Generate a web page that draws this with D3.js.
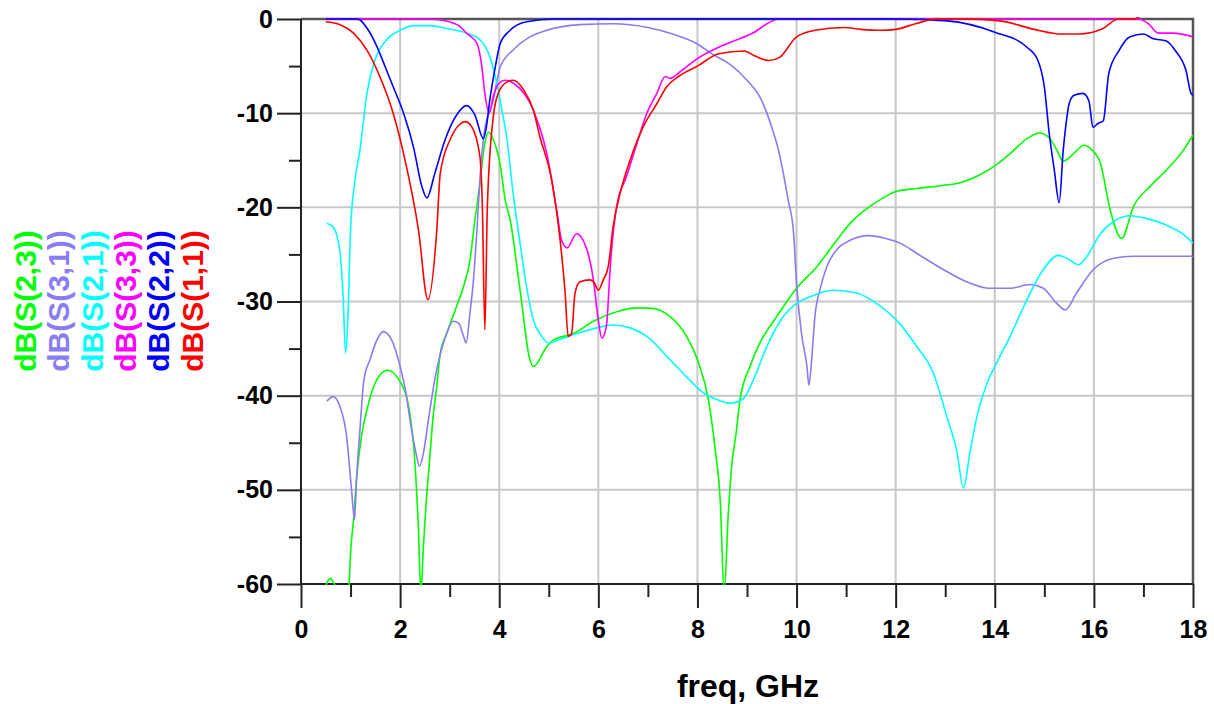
<!DOCTYPE html>
<html>
<head>
<meta charset="utf-8">
<script src="https://cdn.jsdelivr.net/npm/d3@7"></script>
<style>
  body { margin: 0; background: #fff; }
  svg { display: block; font-family: "Liberation Sans", Arial, sans-serif; }
  .grid line { stroke: #c8c8c8; stroke-width: 2; }
  .axis text { font-size: 25px; font-weight: bold; fill: #000; }
  .axis line { stroke: #222; stroke-width: 2; }
  .trace { fill: none; stroke-width: 1.6; stroke-linejoin: round; }
</style>
</head>
<body>
<script>
var svg, plot, x, y, line, W, H, M;

// [freq GHz, dB]
var s23 = [[0.5,-60.2],[0.55,-59.6],[0.6,-59.4],[0.65,-59.8],[0.7,-60.3],[0.8,-61],[0.95,-61],[0.97,-60],[1.0,-56.7],[1.06,-53.2],[1.12,-48.9],[1.22,-44.3],[1.33,-41.5],[1.53,-38.3],[1.74,-37.3],[2.0,-38.5],[2.2,-42],[2.3,-47.2],[2.37,-54.2],[2.42,-61],[2.47,-56],[2.52,-51.8],[2.59,-47.2],[2.66,-42.6],[2.74,-39],[2.81,-35.5],[2.94,-33.4],[3.14,-30.5],[3.28,-28.4],[3.41,-25.6],[3.51,-21.3],[3.6,-17.9],[3.7,-13.5],[3.78,-12.0],[3.88,-12.8],[4.02,-15.5],[4.12,-19.2],[4.22,-21.3],[4.42,-28.8],[4.62,-36.2],[4.69,-36.9],[4.96,-34.8],[5.09,-34.1],[5.5,-33.4],[5.9,-32.1],[6.37,-31.1],[6.71,-30.7],[7.04,-30.7],[7.45,-31.6],[7.78,-33.7],[8.02,-36.5],[8.22,-40.4],[8.36,-45.8],[8.46,-51.1],[8.54,-61],[8.62,-52.8],[8.69,-47.5],[8.78,-44],[8.86,-40.4],[9.06,-36.9],[9.26,-34.4],[9.6,-31.6],[10.0,-28.6],[10.41,-26.3],[10.81,-23.5],[11.08,-21.7],[11.48,-19.9],[11.75,-19.0],[12.02,-18.3],[12.43,-18.0],[12.9,-17.7],[13.3,-17.4],[13.64,-16.7],[14.03,-15.5],[14.31,-14.3],[14.65,-12.7],[14.91,-12.1],[15.11,-12.7],[15.25,-13.9],[15.38,-15.1],[15.59,-14.3],[15.8,-13.4],[15.96,-13.9],[16.13,-15.3],[16.33,-20.3],[16.56,-23.3],[16.8,-19.9],[17.13,-17.8],[17.47,-16],[17.81,-13.9],[18,-12.3]];

var s31 = [[0.52,-40.6],[0.65,-40.1],[0.79,-41.2],[0.92,-44.3],[1.02,-50],[1.08,-53.2],[1.12,-48.9],[1.19,-43.6],[1.27,-38.3],[1.39,-36.2],[1.53,-34.1],[1.66,-33.2],[1.83,-34.1],[2.0,-36.9],[2.13,-40.1],[2.2,-42.6],[2.32,-46.1],[2.39,-47.5],[2.47,-46.1],[2.57,-42.6],[2.7,-38.3],[2.94,-33.4],[3.07,-32.1],[3.18,-32.3],[3.28,-33.7],[3.33,-34.4],[3.41,-31.2],[3.48,-27.7],[3.55,-22.4],[3.61,-17.1],[3.7,-12],[3.88,-8.6],[4.02,-5.1],[4.28,-3.3],[4.62,-1.9],[4.96,-1.2],[5.63,-0.6],[6.3,-0.5],[7.0,-0.9],[7.5,-1.6],[8.0,-2.65],[8.29,-3.7],[8.65,-4.8],[9.0,-6.5],[9.3,-8.7],[9.5,-11.5],[9.62,-13.6],[9.83,-19.2],[9.94,-22.7],[10.0,-28.1],[10.1,-33.4],[10.21,-36.9],[10.25,-38.9],[10.31,-35.8],[10.37,-31.6],[10.47,-28.8],[10.61,-26.3],[10.81,-24.5],[11.08,-23.5],[11.45,-23.0],[11.8,-23.3],[12.09,-23.8],[12.43,-24.9],[12.96,-26.6],[13.43,-27.9],[13.9,-28.6],[14.31,-28.6],[14.71,-28.2],[14.98,-28.6],[15.25,-30.2],[15.42,-30.9],[15.65,-29.1],[15.99,-26.6],[16.4,-25.4],[16.8,-25.2],[17.34,-25.2],[18,-25.2]];

var s21 = [[0.52,-21.7],[0.65,-22.1],[0.79,-24.9],[0.85,-29.5],[0.9,-35.5],[0.95,-31.2],[1.0,-22.4],[1.09,-17.1],[1.19,-13.9],[1.33,-7.9],[1.49,-4.4],[1.73,-2.2],[2.0,-1.2],[2.27,-0.7],[2.6,-0.7],[2.94,-1.0],[3.34,-1.5],[3.61,-2.2],[3.81,-4.0],[3.95,-6.8],[4.08,-10.4],[4.15,-12.5],[4.28,-18.5],[4.42,-23.8],[4.55,-28.4],[4.69,-32],[4.86,-33.7],[4.99,-34.4],[5.23,-34],[5.63,-33.3],[5.97,-32.8],[6.3,-32.5],[6.64,-32.8],[6.98,-33.7],[7.45,-36.2],[7.78,-38],[8.12,-39.7],[8.39,-40.4],[8.66,-40.8],[8.93,-40.3],[9.13,-38.3],[9.4,-34.8],[9.73,-31.6],[10.0,-30.2],[10.27,-29.5],[10.74,-28.8],[11.21,-29.1],[11.69,-30.5],[12.02,-32],[12.43,-34.8],[12.76,-37.6],[13.03,-42.2],[13.23,-45.8],[13.37,-49.8],[13.5,-46],[13.64,-42.2],[13.84,-38.7],[14.04,-36.5],[14.31,-33.7],[14.65,-29.8],[14.98,-26.6],[15.28,-25.1],[15.45,-25.4],[15.69,-26.1],[15.86,-25.2],[16.13,-22.8],[16.4,-21.5],[16.73,-20.9],[17.07,-21.2],[17.47,-21.9],[17.81,-22.9],[18,-23.8]];

var s33 = [[0.5,0],[1.0,0],[2.0,0],[2.6,0],[3.0,-0.3],[3.21,-0.8],[3.34,-1.5],[3.55,-2.6],[3.65,-5.1],[3.71,-7.9],[3.8,-10.0],[3.88,-8.2],[4.02,-6.7],[4.12,-6.5],[4.28,-6.8],[4.69,-9.7],[4.96,-14.3],[5.16,-20.3],[5.26,-23.5],[5.37,-24.3],[5.56,-22.8],[5.77,-24.5],[5.9,-27.7],[6.0,-32],[6.07,-33.9],[6.16,-32.7],[6.25,-25.6],[6.37,-19.9],[6.57,-16.7],[6.78,-13.2],[6.98,-10.0],[7.18,-7.9],[7.35,-6.1],[7.45,-6.3],[7.65,-5.6],[8.0,-4.2],[8.43,-3.0],[9.08,-1.6],[9.65,0],[10,0],[12,0],[14,0],[16,0],[16.9,0],[17.1,-0.5],[17.3,-1.5],[17.6,-1.5],[18,-1.9]];

var s22 = [[0.5,0],[1.13,0],[1.19,-0.1],[1.36,-1.2],[1.53,-2.9],[1.7,-5.1],[1.86,-7.2],[2.07,-10],[2.27,-13.6],[2.44,-17.8],[2.54,-19.0],[2.7,-16.4],[2.91,-12.8],[3.14,-10.2],[3.34,-9.2],[3.51,-10.2],[3.68,-12.7],[3.74,-11.5],[3.81,-8.6],[3.92,-5.1],[4.02,-2.6],[4.22,-1.2],[4.55,-0.3],[5.1,0],[8,0],[10,0],[12,0],[13.04,-0.2],[14.0,-1.4],[14.65,-3.0],[14.87,-4.4],[15.0,-7.2],[15.1,-12.2],[15.2,-16],[15.3,-19.5],[15.38,-14],[15.43,-11.5],[15.5,-9.0],[15.6,-8.1],[15.78,-7.9],[15.9,-8.7],[15.98,-11.5],[16.08,-11.1],[16.19,-10.8],[16.3,-5.8],[16.5,-3.4],[16.72,-1.9],[17.0,-1.6],[17.2,-2.1],[17.45,-2.3],[17.65,-3.4],[17.86,-5.5],[17.96,-7.9],[18,-8.1]];

var s11 = [[0.5,-0.3],[0.79,-0.6],[1.06,-1.5],[1.33,-3.3],[1.59,-6.1],[1.86,-10],[2.07,-14.3],[2.37,-22.4],[2.56,-29.8],[2.74,-22.4],[2.81,-16.4],[3.01,-12.8],[3.2,-11.2],[3.31,-10.9],[3.44,-11.4],[3.61,-14.6],[3.66,-20],[3.71,-33],[3.76,-20],[3.88,-10.4],[3.98,-7.9],[4.15,-6.7],[4.28,-6.5],[4.49,-7.5],[4.69,-9.7],[4.82,-12.5],[5.06,-17.1],[5.23,-23.5],[5.33,-29.1],[5.39,-33.7],[5.46,-33.4],[5.53,-29.1],[5.63,-27.9],[5.83,-27.7],[5.93,-28.1],[6.0,-28.8],[6.1,-27.7],[6.2,-26.3],[6.3,-22],[6.44,-18.5],[6.64,-15],[6.91,-11.4],[7.18,-9.0],[7.38,-7.2],[7.65,-6.0],[8.0,-5.0],[8.43,-3.7],[8.94,-3.4],[9.15,-3.9],[9.44,-4.4],[9.65,-4.1],[10.0,-1.9],[10.37,-1.2],[10.95,-0.9],[11.3,-1.1],[11.7,-1.2],[12.0,-1.1],[12.4,-0.5],[12.85,0],[13.4,0],[14.1,-0.2],[14.8,-1.1],[15.35,-1.6],[15.7,-1.6],[16.15,-1.1],[16.5,0],[16.8,0],[17.0,0.4],[17.5,0.5],[18,0.5]];

var seriesNames = ['dB(S(2,3))', 'dB(S(3,1))', 'dB(S(2,1))', 'dB(S(3,3))', 'dB(S(2,2))', 'dB(S(1,1))'];
var seriesData = [s23, s31, s21, s33, s22, s11];
var seriesColors = ['#00ff00', '#8a7cf2', '#00ffff', '#ff00ff', '#0000ff', '#ff0000'];

var xMajor = [0, 2, 4, 6, 8, 10, 12, 14, 16, 18];
var xMinor = [1, 3, 5, 7, 9, 11, 13, 15, 17];
var yMajor = [0, -10, -20, -30, -40, -50, -60];
var yMinor = [-5, -15, -25, -35, -45, -55];

W = 1214;
H = 704;
M = { left: 301, right: 1193, top: 19, bottom: 584 };

svg = d3.select('body').append('svg')
  .attr('width', W)
  .attr('height', H);

x = d3.scaleLinear().domain([0, 18]).range([M.left, M.right]);
y = d3.scaleLinear().domain([-60, 0]).range([M.bottom, M.top]);

// grid
svg.append('g').attr('class', 'grid')
  .selectAll('line.v').data(xMajor.slice(1, -1)).enter()
  .append('line')
  .attr('x1', function(d) { return x(d); })
  .attr('x2', function(d) { return x(d); })
  .attr('y1', M.top).attr('y2', M.bottom);

svg.select('.grid')
  .selectAll('line.h').data(yMajor.slice(1, -1)).enter()
  .append('line')
  .attr('y1', function(d) { return y(d); })
  .attr('y2', function(d) { return y(d); })
  .attr('x1', M.left).attr('x2', M.right);

// top / right frame
svg.append('path')
  .attr('d', 'M' + M.left + ',' + M.top + 'H' + M.right + 'V' + M.bottom)
  .attr('fill', 'none')
  .attr('stroke', '#555')
  .attr('stroke-width', 2.5);

// axes (plain hyphen for negatives, like the original)
function plain(d) { return String(d); }

svg.append('g').attr('class', 'axis')
  .attr('transform', 'translate(0,' + M.bottom + ')')
  .call(d3.axisBottom(x).tickValues(xMajor).tickSize(24).tickPadding(12).tickFormat(plain));
svg.append('g').attr('class', 'axis')
  .attr('transform', 'translate(0,' + M.bottom + ')')
  .call(d3.axisBottom(x).tickValues(xMinor).tickSize(13).tickFormat(''));

svg.append('g').attr('class', 'axis')
  .attr('transform', 'translate(' + M.left + ',0)')
  .call(d3.axisLeft(y).tickValues(yMajor).tickSize(24).tickPadding(4).tickFormat(plain));
svg.append('g').attr('class', 'axis')
  .attr('transform', 'translate(' + M.left + ',0)')
  .call(d3.axisLeft(y).tickValues(yMinor).tickSize(12).tickFormat(''));

svg.selectAll('.axis .domain').remove();

svg.append('line')
  .attr('x1', M.left).attr('x2', M.right)
  .attr('y1', M.bottom).attr('y2', M.bottom)
  .attr('stroke', '#222').attr('stroke-width', 2);
svg.append('line')
  .attr('x1', M.left).attr('x2', M.left)
  .attr('y1', M.top).attr('y2', M.bottom)
  .attr('stroke', '#222').attr('stroke-width', 2);

// axis title
svg.append('text')
  .attr('x', 748)
  .attr('y', 697)
  .attr('text-anchor', 'middle')
  .style('font-size', '32px')
  .style('font-weight', 'bold')
  .text('freq, GHz');

// traces, clipped to the plot box
svg.append('clipPath').attr('id', 'clip')
  .append('rect')
  .attr('x', M.left).attr('y', M.top - 2)
  .attr('width', M.right - M.left).attr('height', M.bottom - M.top + 3);

line = d3.line()
  .x(function(d) { return x(d[0]); })
  .y(function(d) { return y(d[1]); })
  .curve(d3.curveMonotoneX);

plot = svg.append('g').attr('clip-path', 'url(#clip)');

plot.selectAll('.trace')
    .data(seriesData)
  .enter()
    .append('path')
    .attr('class', 'trace')
    .attr('stroke', function(d, i) { return seriesColors[i]; })
    .attr('d', function(d) { return line(d); });

// legend (rotated labels on the left)
svg.append('g')
  .selectAll('text')
  .data(seriesNames)
  .enter()
  .append('text')
  .attr('transform', function(d, i) {
    return 'translate(' + (36 + i * 33.3) + ',301) rotate(-90)';
  })
  .attr('text-anchor', 'middle')
  .style('font-size', '30px')
  .style('font-weight', 'bold')
  .attr('fill', function(d, i) { return seriesColors[i]; })
  .text(function(d) { return d; });
</script>
</body>
</html>
